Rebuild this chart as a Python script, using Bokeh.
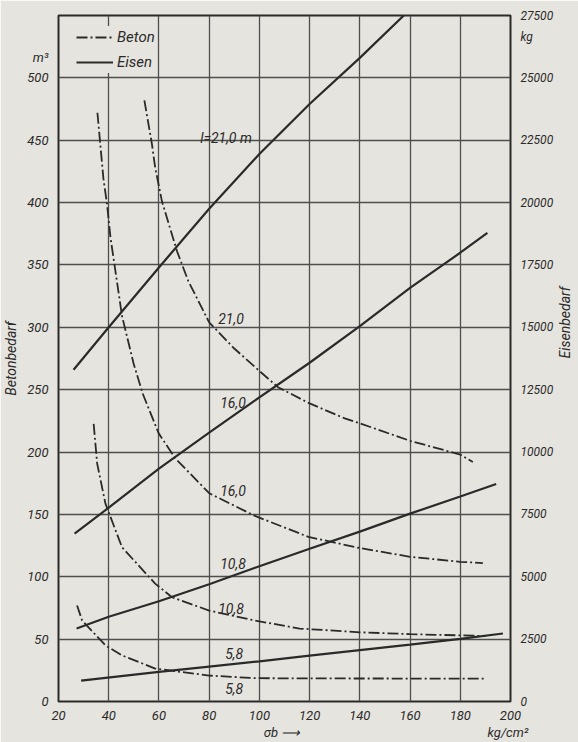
import math
from bokeh.plotting import figure
from bokeh.models import (Range1d, LinearAxis, FixedTicker, Legend, LegendItem)
from bokeh.core.properties import value
from bokeh.embed import file_html
from bokeh.resources import INLINE

# ---------------- data ----------------
x_ticks = [20, 40, 60, 80, 100, 120, 140, 160, 180, 200]
beton_ticks = [0, 50, 100, 150, 200, 250, 300, 350, 400, 450, 500]
eisen_ticks = [0, 2500, 5000, 7500, 10000, 12500, 15000, 17500, 20000, 22500, 25000, 27500]

# Beton (m3), dash-dot curves
beton_210_x = [54.2, 57.2, 58.5, 61.2, 67.2, 71.7, 80, 90, 100, 107.4, 120, 134, 140, 160, 180, 185]
beton_210_y = [482, 447, 428, 401, 361, 337, 304, 283, 265, 252, 239, 227, 223, 209, 198, 192]
beton_160_x = [35.5, 37.9, 39.3, 40.7, 45.3, 49.9, 53.5, 59.9, 66.5, 80, 98, 119.5, 140, 160, 180, 189]
beton_160_y = [472, 419, 399, 372, 309, 271, 247, 215, 195, 167, 149, 132, 123, 116, 112, 111]
beton_108_x = [34, 35.4, 38.7, 45.3, 58.5, 65.2, 80, 98.3, 116, 140, 160, 190]
beton_108_y = [222.6, 190.7, 158.6, 123.6, 94.5, 83.6, 72.9, 64.9, 58.5, 55.5, 54, 52.5]
beton_58_x = [27.4, 29.4, 38.7, 45.3, 58.5, 80, 98.3, 120, 160, 190]
beton_58_y = [77, 65, 45, 37, 26.4, 20.8, 18.7, 18.5, 18.4, 18.4]

# Eisen (kg), solid lines
eisen_210_x = [26, 40, 60, 80, 100, 120, 140, 157.5]
eisen_210_y = [13300, 15000, 17400, 19750, 21950, 23950, 25800, 27500]
eisen_160_x = [26.4, 39.5, 60, 80, 98, 120, 140, 160, 180, 190.8]
eisen_160_y = [6730, 7730, 9335, 10775, 12050, 13580, 15050, 16585, 17990, 18790]
eisen_108_x = [27.2, 40, 60, 80, 98, 120, 140, 160, 180, 194.3]
eisen_108_y = [2925, 3400, 4020, 4700, 5350, 6120, 6810, 7530, 8220, 8720]
eisen_58_x = [29, 60, 80, 100, 120, 140, 160, 180, 197]
eisen_58_y = [840, 1190, 1400, 1610, 1840, 2060, 2280, 2510, 2725]

# curve labels (x in kg/cm2, y in m3)
curve_label_text = ["l=21,0 m", "21,0", "16,0", "16,0", "10,8", "10,8", "5,8", "5,8"]
curve_label_x = [76.4, 83.6, 84.4, 84.4, 84.4, 83.6, 86.4, 86.4]
curve_label_y = [452, 307, 240, 169, 110.6, 74.5, 38.5, 10.4]

# unit / axis texts
unit_left = "m³"
unit_right = "kg"
unit_x = "kg/cm²"
x_title = "σb ⟶"
left_title = "Betonbedarf"
right_title = "Eisenbedarf"

# ---------------- styling ----------------
BG = "#e6e4de"
INK = "#2a2a2a"
GRID = "#4e4e4e"
FONT = "Roboto"

p = figure(frame_width=452, frame_height=686,
           x_range=Range1d(20, 200), y_range=Range1d(0, 550),
           output_backend="svg", toolbar_location=None,
           min_border_left=50, min_border_right=60,
           min_border_top=15, min_border_bottom=30,
           background_fill_color=BG, border_fill_color=BG)
p.extra_y_ranges = {"kg": Range1d(0, 27500)}

right = LinearAxis(y_range_name="kg",
                   ticker=FixedTicker(ticks=eisen_ticks + [26650]),
                   major_label_overrides={26650: unit_right})
p.add_layout(right, "right")

# second row below the x axis: sigma title and the unit
xunit_axis = LinearAxis(ticker=FixedTicker(ticks=[109, 199]),
                        major_label_overrides={109: x_title, 199: unit_x})
p.add_layout(xunit_axis, "below")

p.below[0].ticker = FixedTicker(ticks=x_ticks)
left = p.left[0]
left.ticker = FixedTicker(ticks=beton_ticks + [516])
left.major_label_overrides = {516: unit_left}
left.axis_label = left_title
right.axis_label = right_title
if "axis_label_orientation" in right.properties():
    right.axis_label_orientation = math.pi / 2

for ax in [p.below[0], left, right, xunit_axis]:
    ax.axis_line_color = None
    ax.major_tick_line_color = None
    ax.minor_tick_line_color = None
    ax.major_label_text_font = FONT
    ax.major_label_text_font_style = "italic"
    ax.major_label_text_font_size = "13px"
    ax.major_label_text_color = INK
    ax.axis_label_text_font = FONT
    ax.axis_label_text_font_style = "italic"
    ax.axis_label_text_font_size = "14px"
    ax.axis_label_text_color = INK
p.below[0].major_label_standoff = 3
xunit_axis.major_label_standoff = -4
xunit_axis.major_label_text_font_size = "13px"
left.major_label_standoff = 4
left.axis_label_standoff = 5
right.major_label_text_font_size = "12px"
right.major_label_standoff = 4
right.axis_label_standoff = 9

p.xgrid.ticker = FixedTicker(ticks=x_ticks)
p.ygrid.ticker = FixedTicker(ticks=beton_ticks[1:])
for g in [p.xgrid[0], p.ygrid[0]]:
    g.grid_line_color = GRID
    g.grid_line_width = 1.3
p.outline_line_color = INK
p.outline_line_width = 2

DASH = "11 3 2 3"
rb = []
for xs, ys in [(beton_210_x, beton_210_y), (beton_160_x, beton_160_y),
               (beton_108_x, beton_108_y), (beton_58_x, beton_58_y)]:
    rb.append(p.line(xs, ys, line_color=INK, line_width=1.8, line_dash=DASH))
re = []
for xs, ys in [(eisen_210_x, eisen_210_y), (eisen_160_x, eisen_160_y),
               (eisen_108_x, eisen_108_y), (eisen_58_x, eisen_58_y)]:
    re.append(p.line(xs, ys, line_color=INK, line_width=2.2, y_range_name="kg"))

p.text(x=curve_label_x, y=curve_label_y, text=curve_label_text,
       text_font=value(FONT), text_font_style="italic", text_font_size="14px",
       text_align="left", text_baseline="middle", text_color=INK)

legend = Legend(items=[LegendItem(label="Beton", renderers=[rb[0]]),
                       LegendItem(label="Eisen", renderers=[re[0]])],
                location=(18, 628), glyph_width=37, glyph_height=22,
                label_height=22, spacing=3, padding=4, label_standoff=4,
                background_fill_color=BG, background_fill_alpha=1.0,
                border_line_color=None, label_text_font=FONT,
                label_text_font_style="italic", label_text_font_size="15px",
                label_text_color=INK)
p.add_layout(legend)

html = file_html(p, INLINE)
html = html.replace("<body>", '<body style="background:%s">' % BG, 1)
open("out.html", "w").write(html)
